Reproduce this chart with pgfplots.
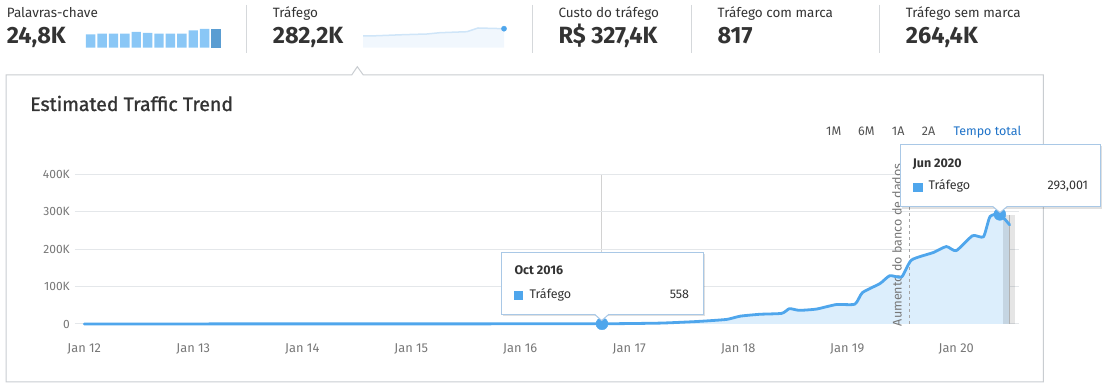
\documentclass[border=0pt]{standalone}
\usepackage{pgfplots}
\pgfplotsset{compat=1.18}
\usepackage{pgfplotstable}
\usepackage{fontspec}
\setmainfont{Fira Sans}
\newfontfamily\titlefont{Fira Sans}[FakeBold=1.2]
\usetikzlibrary{shadows}
\definecolor{txt}{HTML}{333333}
\definecolor{lbl}{HTML}{777777}
\definecolor{gridc}{HTML}{E4E7EA}
\definecolor{linec}{HTML}{4FA6EC}
\definecolor{areac}{HTML}{DCEEFC}
\definecolor{barc}{HTML}{8AC7F6}
\definecolor{bard}{HTML}{5A9DD2}
\definecolor{sep}{HTML}{D5D8DB}
\definecolor{panel}{HTML}{C9CDD1}
\definecolor{tipb}{HTML}{A9C8E6}
\definecolor{linkc}{HTML}{1F73C9}
\definecolor{sparkl}{HTML}{CFE5F8}
\definecolor{sparka}{HTML}{F1F7FD}
\newcommand\fs[1]{\fontsize{#1}{#1}\selectfont}

\pgfplotstableread{
t v
0 200
0.5 250
1 250
1.5 300
2 300
2.5 320
3 350
3.5 380
4 420
4.5 500
4.75 558
5.0 1200
5.3 2500
5.58 6000
5.75 9000
5.9 12500
6.02 21000
6.2 26000
6.40 28500
6.47 41000
6.56 36500
6.72 40000
6.90 52000
7.07 53000
7.14 84000
7.30 108000
7.39 129000
7.50 126000
7.59 171000
7.79 191000
7.91 207000
8.00 196000
8.15 236000
8.25 233000
8.31 287000
8.40 293001
8.49 265000
}\traffic

\pgfplotstableread{
i h
1 13.3
2 14
3 14
4 14
5 15.7
6 14.7
7 14
8 14
9 14
10 17.3
11 18.7
}\kwbars

\pgfplotstableread{
x h
0 11.7
7 11.7
40 13
64 13.7
77 15
104 16
115 19.7
141 19
}\spark

\begin{document}
\begin{tikzpicture}[x=1pt,y=1pt]
\useasboundingbox (0,0) rectangle (1109,388);

% ---------- decorations (y measured from top) ----------
\begin{scope}[y=-1pt, yshift=388pt]
  % panel
  \draw[panel, line width=1pt, fill=white] (6,75) -- (351.7,75) -- (357.3,66.7) -- (363.3,75) -- (1043.3,75) -- (1043.3,382) -- (6,382) -- cycle;
  % separators
  \foreach \sx in {246.7,532.3,691.7,879.3} \draw[sep, line width=1pt] (\sx,5) -- (\sx,52.7);
  % header labels
  \foreach \hx/\lab/\val in {6.7/Palavras-chave/{24,8K}, 272.7/Tráfego/{282,2K}, 558.3/Custo do tráfego/{R\$ 327,4K}, 717.5/Tráfego com marca/817, 905.7/Tráfego sem marca/{264,4K}} {
    \node[anchor=base west, inner sep=0, text=txt, font=\fs{13.5}] at (\hx,17.3) {\lab};
    \node[anchor=base west, inner sep=0, text=txt, font=\fs{23.5}\bfseries] at (\hx,43.3) {\val};
  }
  % title
  \node[anchor=base west, inner sep=0, text=txt, font=\titlefont\fs{19.5}] at (30,111) {Estimated Traffic Trend};
  % range controls
  \foreach \cx/\ct in {826/1M, 858/6M, 891.7/1A, 921.7/2A} \node[anchor=base west, inner sep=0, text=txt!85, font=\fs{12.5}] at (\cx,136) {\ct};
  \node[anchor=base west, inner sep=0, text=linkc, font=\fs{12.5}] at (953.3,136) {Tempo total};
  % hover line
  \draw[gray!35, line width=0.8pt] (601.7,174.3) -- (601.7,252.7);
\end{scope}

% ---------- keyword mini bars ----------
\begin{axis}[at={(85pt,340.3pt)}, anchor=south west, scale only axis, width=136.7pt, height=18.7pt,
  xmin=0.5, xmax=12.5, ymin=0, ymax=18.7, hide axis, clip=false]
  \addplot[ybar, bar width=9.4pt, bar shift=0pt, fill=barc, draw=none] table[x=i, y=h] {\kwbars};
  \addplot[ybar, bar width=9.4pt, bar shift=0pt, fill=bard, draw=none] coordinates {(12,18.7)};
\end{axis}

% ---------- traffic sparkline ----------
\begin{axis}[at={(363pt,340.3pt)}, anchor=south west, scale only axis, width=141pt, height=20pt,
  xmin=0, xmax=141, ymin=0, ymax=20, hide axis, clip=false]
  \addplot[fill=sparka, draw=none] table[x=x, y=h] {\spark} \closedcycle;
  \addplot[sparkl, line width=1.5pt] table[x=x, y=h] {\spark};
  \addplot[only marks, mark=*, mark size=2.6pt, mark options={fill=linec, draw=linec}] coordinates {(141,19)};
\end{axis}

% ---------- main chart ----------
\begin{axis}[at={(75pt,64pt)}, anchor=south west, scale only axis, width=944pt, height=149.7pt,
  xmin=-0.085, xmax=8.576, ymin=0, ymax=400000,
  axis line style={draw=none}, tick style={draw=none},
  ytick={0,100000,200000,300000,400000}, yticklabels={0,100K,200K,300K,400K},
  xtick={0,...,8}, xticklabels={Jan 12,Jan 13,Jan 14,Jan 15,Jan 16,Jan 17,Jan 18,Jan 19,Jan 20},
  scaled y ticks=false,
  ymajorgrids, major grid style={gridc, line width=1pt},
  ticklabel style={text=lbl},
  yticklabel style={anchor=east, inner sep=0pt, xshift=-5pt, font=\fs{12}},
  xticklabel style={anchor=base, inner sep=0pt, yshift=-29pt, font=\fs{12.8}},
  clip=false]
  \addplot[fill=areac, draw=none, smooth, tension=0.35] table[x=t, y=v] {\traffic} \closedcycle;
  \fill[black, opacity=0.1] (axis cs:8.431,0) rectangle (axis cs:8.539,291300);
  \draw[gray!60, line width=0.8pt] (axis cs:8.492,0) -- (axis cs:8.492,291300);
  \draw[gray!70, dashed, line width=0.7pt] (axis cs:7.570,0) -- (axis cs:7.570,400000);
  \node[rotate=90, anchor=base west, inner sep=0, text=lbl, font=\fs{12.5}] at (axis cs:7.500,-6000) {Aumento do banco de dados};
  \addplot[linec, line width=2.8pt, smooth, tension=0.35, line join=round, line cap=round] table[x=t, y=v] {\traffic};
  \addplot[only marks, mark=*, mark size=6pt, mark options={fill=linec, draw=linec}] coordinates {(4.75,558) (8.40,293001)};
\end{axis}

% ---------- tooltips ----------
\begin{scope}[y=-1pt, yshift=388pt]
  % Oct 2016
  \fill[black, opacity=0.12] (503.2,254.2) rectangle (705.3,316.3);
  \draw[tipb, line width=1pt, fill=white] (501.7,252.7) rectangle (703.3,314.3);
  \fill[white] (594.5,313.8) -- (601.7,320.5) -- (608.9,313.8) -- cycle;
  \draw[tipb, line width=1pt] (594.5,314.3) -- (601.7,320.5) -- (608.9,314.3);
  \node[anchor=base west, inner sep=0, text=txt, font=\fs{12.5}\bfseries] at (514.3,275) {Oct 2016};
  \fill[linec] (514,290.7) rectangle (523.3,300);
  \node[anchor=base west, inner sep=0, text=txt, font=\fs{12.5}] at (529.3,298.3) {Tráfego};
  \node[anchor=base east, inner sep=0, text=txt, font=\fs{12.5}] at (689.3,298.3) {558};
  % Jun 2020
  \fill[black, opacity=0.12] (902.2,146.2) rectangle (1102,208.7);
  \draw[tipb, line width=1pt, fill=white] (900.7,144.7) rectangle (1100,206.7);
  \fill[white] (993,206.2) -- (1000,212.5) -- (1007,206.2) -- cycle;
  \draw[tipb, line width=1pt] (993,206.7) -- (1000,212.5) -- (1007,206.7);
  \node[anchor=base west, inner sep=0, text=txt, font=\fs{12.5}\bfseries] at (912.7,167.3) {Jun 2020};
  \fill[linec] (913.3,182.7) rectangle (922.7,191.7);
  \node[anchor=base west, inner sep=0, text=txt, font=\fs{12.5}] at (928.3,190) {Tráfego};
  \node[anchor=base east, inner sep=0, text=txt, font=\fs{12.5}] at (1088.3,190) {293,001};
\end{scope}
\end{tikzpicture}
\end{document}
